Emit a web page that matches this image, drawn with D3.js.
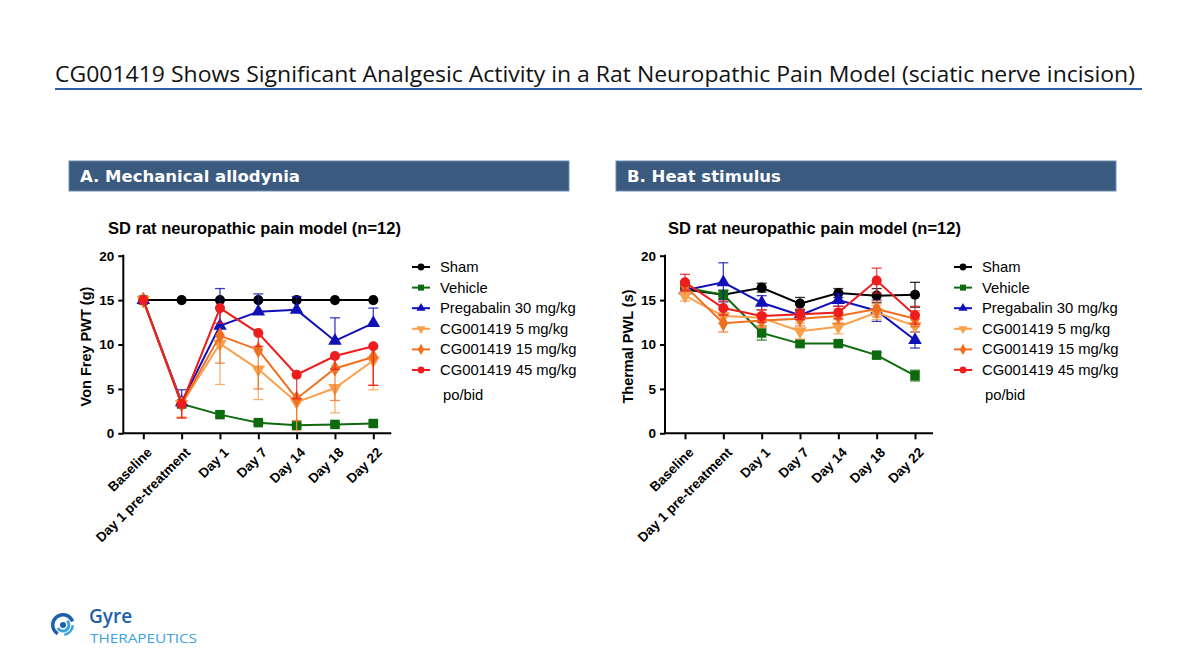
<!DOCTYPE html>
<html>
<head>
<meta charset="utf-8">
<script src="https://cdn.jsdelivr.net/npm/d3@7"></script>
<style>
  body { margin: 0; background: #fff; }
  svg { display: block; }
  .tick text { font-family: "Liberation Sans", Arial, sans-serif; font-weight: bold; font-size: 13.5px; fill: #000; }
</style>
</head>
<body>
<script>
// x categories and groups
var categories = ["Baseline", "Day 1 pre-treatment", "Day 1", "Day 7", "Day 14", "Day 18", "Day 22"];
var groups = ["Sham", "Vehicle", "Pregabalin 30 mg/kg", "CG001419 5 mg/kg", "CG001419 15 mg/kg", "CG001419 45 mg/kg"];
var yTicks = [0, 5, 10, 15, 20];

// A. mechanical allodynia (Von Frey PWT, g)
var mechSham       = [15, 15, 15, 15, 15, 15, 15];
var mechVehicle    = [15, 3.3, 2.1, 1.2, 0.9, 1.0, 1.1];
var mechPregabalin = [15, 3.5, 12.1, 13.7, 13.9, 10.4, 12.4];
var mechCg5        = [15, 3.3, 10.1, 7.2, 3.5, 5.1, 8.2];
var mechCg15       = [15, 3.3, 11.0, 9.4, 3.9, 7.3, 8.6];
var mechCg45       = [15, 3.3, 14.1, 11.3, 6.6, 8.7, 9.8];
// SEM
var mechShamErr       = [0, 0, 0, 0, 0, 0, 0];
var mechVehicleErr    = [0, 0.3, 0.3, 0.2, 0.2, 0.2, 0.3];
var mechPregabalinErr = [0, 1.4, 4.2, 2.0, 1.5, 2.6, 1.7];
var mechCg5Err        = [0, 1.5, 4.6, 3.4, 3.2, 2.8, 3.3];
var mechCg15Err       = [0, 1.5, 3.1, 4.4, 2.5, 3.6, 3.2];
var mechCg45Err       = [0, 1.6, 1.7, 1.5, 2.7, 1.5, 4.4];

// B. heat stimulus (Thermal PWL, s)
var heatSham       = [16.2, 15.6, 16.4, 14.6, 15.8, 15.5, 15.6];
var heatVehicle    = [16.4, 15.6, 11.3, 10.1, 10.1, 8.8, 6.5];
var heatPregabalin = [16.1, 17.0, 14.7, 13.3, 15.0, 13.8, 10.5];
var heatCg5        = [15.5, 13.2, 13.0, 11.5, 12.0, 13.6, 12.1];
var heatCg15       = [16.6, 12.4, 12.7, 12.9, 13.2, 14.0, 12.9];
var heatCg45       = [17.0, 14.1, 13.2, 13.4, 13.6, 17.2, 13.3];
var heatShamErr       = [0.4, 0.5, 0.5, 0.7, 0.5, 0.8, 1.4];
var heatVehicleErr    = [0.4, 0.5, 0.8, 0.3, 0.3, 0.3, 0.6];
var heatPregabalinErr = [0.4, 2.2, 0.8, 0.5, 0.7, 1.2, 0.9];
var heatCg5Err        = [0.6, 0.8, 0.9, 0.9, 0.8, 0.8, 0.7];
var heatCg15Err       = [0.6, 1.0, 0.8, 0.8, 0.8, 0.9, 0.9];
var heatCg45Err       = [0.9, 0.8, 0.7, 0.6, 0.7, 1.4, 1.0];

var colors = ["#000000", "#0d6b0d", "#1010b8", "#f8a04c", "#f07020", "#ee1c1c"];
var symbols = [d3.symbolCircle, d3.symbolSquare, d3.symbolTriangle, "down", d3.symbolDiamond, d3.symbolCircle];

var width = 1196, height = 672;
var svg = d3.select("body").append("svg").attr("width", width).attr("height", height);
var font = "'Liberation Sans', Arial, sans-serif";

// title
svg.append("text")
  .attr("x", 55).attr("y", 82)
  .attr("font-family", "'Open Sans', sans-serif")
  .attr("font-size", 21.5)
  .attr("textLength", 1080).attr("lengthAdjust", "spacingAndGlyphs")
  .attr("fill", "#111")
  .text("CG001419 Shows Significant Analgesic Activity in a Rat Neuropathic Pain Model (sciatic nerve incision)");
svg.append("line")
  .attr("x1", 55).attr("x2", 1142).attr("y1", 89).attr("y2", 89)
  .attr("stroke", "#2a5caa").attr("stroke-width", 2);

function markerPath(sym, size) {
  if (sym === "down") {
    return d3.symbol().type(d3.symbolTriangle).size(size)();
  }
  return d3.symbol().type(sym).size(size)();
}

function drawPanel(p) {
  var g = svg.append("g");

  // header bar
  g.append("rect")
    .attr("x", p.boxX).attr("y", 161).attr("width", 500).attr("height", 30)
    .attr("fill", "#3b5a80").attr("stroke", "#6f8fb5").attr("stroke-width", 1);
  g.append("text")
    .attr("x", p.boxX + 11).attr("y", 182)
    .attr("font-family", "'DejaVu Sans', Verdana, sans-serif")
    .attr("font-weight", "bold").attr("font-size", 16.5)
    .attr("fill", "#fff")
    .text(p.heading);

  // chart subtitle
  g.append("text")
    .attr("x", p.subX).attr("y", 234)
    .attr("font-family", font).attr("font-weight", "bold").attr("font-size", 16.5)
    .text("SD rat neuropathic pain model (n=12)");

  var xScale = d3.scalePoint().domain(categories).range([p.x0 + 20, p.x0 + 250]);
  var yScale = d3.scaleLinear().domain([0, 20]).range([433.3, 255.7]);

  // axes
  var yAxis = d3.axisLeft(yScale).tickValues(yTicks).tickSize(5).tickPadding(4);
  var ag = g.append("g").attr("transform", "translate(" + p.x0 + ",0)").call(yAxis);
  ag.select(".domain").attr("stroke-width", 2).attr("d", "M0," + yScale(0) + "V" + (yScale(20) - 1));
  ag.selectAll(".tick line").attr("stroke-width", 2);

  var xAxis = d3.axisBottom(xScale).tickSize(6).tickSizeOuter(0);
  var bg = g.append("g").attr("transform", "translate(0," + yScale(0) + ")").call(xAxis);
  bg.select(".domain").attr("stroke-width", 2).attr("d", "M" + (p.x0 - 1) + ",0H" + (p.x0 + 268));
  bg.selectAll(".tick line").attr("stroke-width", 2);
  bg.selectAll(".tick text")
    .attr("text-anchor", "end")
    .attr("dy", null).attr("y", 0)
    .attr("transform", "translate(9,20) rotate(-45)");

  // y label
  g.append("text")
    .attr("transform", "translate(" + (p.x0 - 32) + "," + (yScale(10) + 2) + ") rotate(-90)")
    .attr("text-anchor", "middle")
    .attr("font-family", font).attr("font-weight", "bold").attr("font-size", 14.5)
    .text(p.yLabel);

  var line = d3.line()
    .x(function(d, i) { return xScale(categories[i]); })
    .y(function(d) { return yScale(d); });

  p.series.forEach(function(vals, k) {
    var errs = p.errors[k];
    var dir = p.errDir[k];
    var col = colors[k];
    var sg = g.append("g");

    // error bars
    vals.forEach(function(v, i) {
      if (!errs[i]) return;
      var x = xScale(categories[i]);
      var ends = [];
      if (dir !== "down") ends.push(v + errs[i]);
      if (dir !== "up") ends.push(v - errs[i]);
      ends.forEach(function(e) {
        sg.append("line")
          .attr("x1", x).attr("x2", x).attr("y1", yScale(v)).attr("y2", yScale(Math.max(0, e)))
          .attr("stroke", col).attr("stroke-width", 1.3).attr("opacity", 0.8);
        sg.append("line")
          .attr("x1", x - 5).attr("x2", x + 5).attr("y1", yScale(Math.max(0, e))).attr("y2", yScale(Math.max(0, e)))
          .attr("stroke", col).attr("stroke-width", 1.3).attr("opacity", 0.8);
      });
    });

    sg.append("path")
      .attr("d", line(vals))
      .attr("fill", "none").attr("stroke", col).attr("stroke-width", 2);

    sg.selectAll("path.pt")
      .data(vals)
      .enter()
      .append("path")
      .attr("class", "pt")
      .attr("d", markerPath(symbols[k], symbols[k] === d3.symbolSquare ? 90 : 80))
      .attr("transform", function(d, i) {
        return "translate(" + xScale(categories[i]) + "," + yScale(d) + ")" + (symbols[k] === "down" ? " rotate(180)" : "");
      })
      .attr("fill", col);
  });

  // legend
  var lg = g.append("g").attr("transform", "translate(" + p.legX + ",267)");
  groups.forEach(function(name, k) {
    var row = lg.append("g").attr("transform", "translate(0," + (k * 20.6) + ")");
    row.append("line").attr("x1", 0).attr("x2", 18).attr("stroke", colors[k]).attr("stroke-width", 2);
    row.append("path")
      .attr("d", markerPath(symbols[k], 36))
      .attr("transform", "translate(9,0)" + (symbols[k] === "down" ? " rotate(180)" : ""))
      .attr("fill", colors[k]);
    row.append("text")
      .attr("x", 28).attr("y", 5)
      .attr("font-family", font).attr("font-size", 14.8)
      .text(name);
  });
  lg.append("text")
    .attr("x", 31).attr("y", 133)
    .attr("font-family", font).attr("font-size", 14.8)
    .text("po/bid");
}

drawPanel({
  boxX: 69, heading: "A. Mechanical allodynia", x0: 123.3, legX: 412, subX: 108,
  yLabel: "Von Frey PWT (g)",
  series: [mechSham, mechVehicle, mechPregabalin, mechCg5, mechCg15, mechCg45],
  errors: [mechShamErr, mechVehicleErr, mechPregabalinErr, mechCg5Err, mechCg15Err, mechCg45Err],
  errDir: ["both", "both", "up", "down", "down", "down"]
});

drawPanel({
  boxX: 616, heading: "B. Heat stimulus", x0: 665, legX: 954, subX: 668,
  yLabel: "Thermal PWL (s)",
  series: [heatSham, heatVehicle, heatPregabalin, heatCg5, heatCg15, heatCg45],
  errors: [heatShamErr, heatVehicleErr, heatPregabalinErr, heatCg5Err, heatCg15Err, heatCg45Err],
  errDir: ["both", "both", "both", "both", "both", "both"]
});

// logo
var logo = svg.append("g").attr("transform", "translate(63,625)");
var arc = d3.arc();
logo.append("path").attr("d", arc({innerRadius: 8.5, outerRadius: 12, startAngle: -2.6, endAngle: 1.2})).attr("fill", "#1d5fae");
logo.append("path").attr("d", arc({innerRadius: 8.5, outerRadius: 11, startAngle: 1.6, endAngle: 3.0})).attr("fill", "#3da2dc");
logo.append("path").attr("d", arc({innerRadius: 4.5, outerRadius: 7.5, startAngle: 0.8, endAngle: 4.2})).attr("fill", "#3da2dc");
logo.append("path").attr("d", arc({innerRadius: 0, outerRadius: 3, startAngle: 0, endAngle: 2 * Math.PI})).attr("fill", "#1d5fae");
svg.append("text")
  .attr("x", 89).attr("y", 623)
  .attr("font-family", "'Open Sans', sans-serif").attr("font-weight", "600").attr("font-size", 19)
  .attr("fill", "#1d5fae").text("Gyre");
svg.append("text")
  .attr("x", 90).attr("y", 643)
  .attr("font-family", "'Open Sans', sans-serif").attr("font-size", 13)
  .attr("textLength", 107).attr("lengthAdjust", "spacingAndGlyphs")
  .attr("fill", "#3da2dc").text("THERAPEUTICS");
</script>
</body>
</html>
